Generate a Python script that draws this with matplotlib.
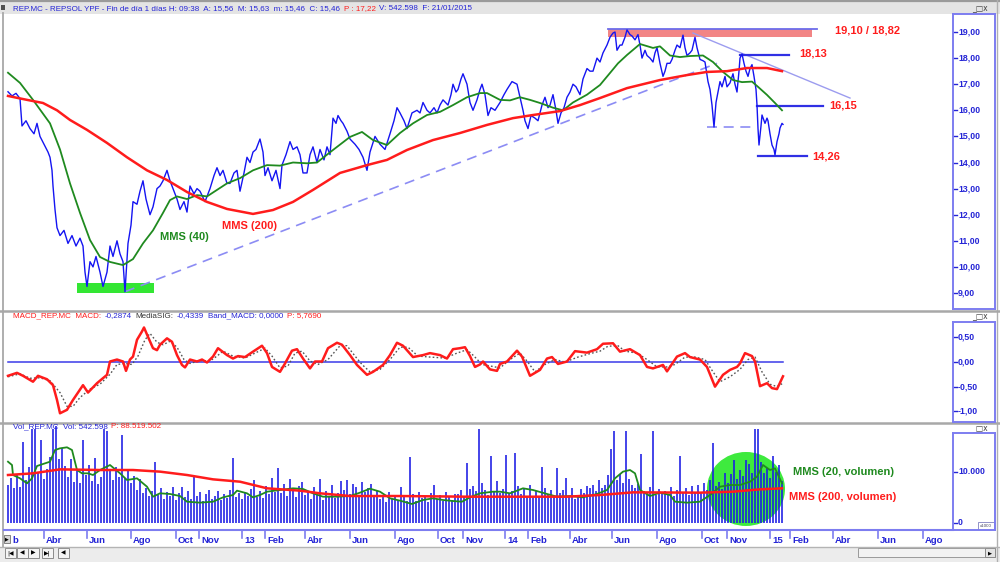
import matplotlib
matplotlib.use("Agg")
import matplotlib.pyplot as plt
import numpy as np
from matplotlib.patches import Rectangle, Ellipse

plt.rcParams['font.family'] = ['Liberation Sans', 'DejaVu Sans']

# ---------------- data (x = trading session number) ----------------
price_session = [
    8, 12, 16, 20, 22, 26, 30, 34, 37, 40,
    44, 48, 50, 52, 53, 55, 57, 60, 64, 68,
    72, 76, 80, 83, 85, 87, 90, 93, 96, 100,
    103, 107, 110, 113, 117, 120, 123, 125, 128, 131,
    133, 137, 140, 143, 146, 150, 153, 157, 160, 163,
    167, 170, 173, 177, 180, 184, 187, 190, 194, 197,
    200, 205, 210, 214, 217, 220, 223, 227, 230, 234,
    237, 240, 244, 247, 250, 253, 256, 260, 263, 265,
    268, 272, 276, 280, 282, 286, 290, 293, 297, 300,
    303, 307, 310, 313, 317, 320, 324, 327, 330, 333,
    336, 338, 341, 343, 347, 350, 355, 359, 363, 367,
    370, 375, 380, 385, 390, 394, 397, 400, 404, 407,
    412, 417, 420, 423, 427, 430, 434, 437, 440, 443,
    448, 451, 453, 456, 458, 461, 463, 467, 470, 473,
    477, 480, 482, 485, 488, 491, 495, 500, 504, 507,
    512, 517, 520, 523, 525, 528, 531, 535, 538, 542,
    545, 548, 550, 553, 556, 558, 561, 564, 567, 570,
    573, 576, 580, 583, 587, 590, 593, 597, 600, 603,
    607, 610, 613, 615, 617, 620, 622, 625, 627, 630,
    632, 635, 638, 640, 642, 645, 647, 650, 653, 655,
    657, 660, 663, 665, 667, 670, 672, 675, 677, 680,
    683, 685, 687, 690, 692, 695, 697, 700, 703, 705,
    708, 710, 712, 714, 716, 718, 720, 722, 725, 727,
    730, 733, 735, 737, 739, 740, 742, 744, 746, 748,
    750, 752, 754, 756, 757, 758, 759, 761, 762, 764,
    765, 767, 768, 770, 772, 774, 775, 777, 779, 780,
    782, 783]
price_close = [
    16.71, 16.55, 16.65, 16.45, 15.4, 15.6, 15.3, 15.1, 15.5, 15.0,
    14.7, 14.4, 14.2, 13.7, 13.1, 12.2, 11.5, 11.2, 11.4, 10.9,
    11.2, 10.8, 11.1, 10.8, 9.8, 9.25, 10.2, 10.0, 10.4, 9.8,
    9.25, 9.8, 10.8, 10.4, 11.0, 10.5, 10.2, 9.05, 10.9, 11.6,
    12.5, 12.4, 12.9, 13.3, 12.6, 12.0, 12.3, 13.0, 13.1, 13.3,
    13.7, 13.3, 13.0, 12.6, 12.2, 12.5, 12.1, 13.1, 12.8, 13.0,
    12.9, 12.5, 13.0, 13.5, 13.8, 13.5, 13.7, 13.2, 13.2, 13.6,
    13.7, 12.9, 13.6, 14.2, 14.0, 14.4, 14.5, 14.9, 14.4, 13.5,
    13.8, 13.3, 13.7, 13.0, 13.9, 14.3, 14.8, 14.5, 14.6, 14.3,
    13.6, 13.6, 14.3, 14.6, 14.0, 14.5, 14.1, 14.6, 14.3, 15.7,
    15.5, 15.8, 15.6, 15.5, 15.2, 14.9, 14.7, 14.5, 14.2, 13.7,
    14.4, 15.0, 14.7, 14.5, 15.1, 15.6, 16.1, 15.9, 15.6, 15.3,
    15.9, 16.0, 15.9, 16.3, 16.0, 15.9, 16.1, 15.9, 16.2, 16.4,
    16.2, 16.6, 17.0, 16.7, 16.8, 17.2, 17.4, 17.0, 16.3, 16.0,
    16.4, 16.8, 17.0, 16.6, 15.8, 16.1, 16.0, 16.3, 16.6, 16.8,
    17.1, 17.0, 16.5, 16.0, 15.6, 15.3, 15.8, 15.7, 15.6, 16.2,
    16.5, 16.1, 16.2, 16.6, 16.0, 15.5, 15.9, 16.1, 16.5, 16.7,
    17.0, 16.9, 16.6, 17.2, 17.6, 17.5, 17.5, 18.0, 17.85, 18.2,
    18.5, 18.8, 18.96, 19.0, 18.3, 18.5, 18.5, 18.8, 19.08, 18.9,
    18.85, 18.7, 18.9, 18.5, 18.0, 18.3, 18.1, 18.0, 17.85, 18.2,
    18.4, 17.8, 17.3, 17.5, 17.8, 17.8, 17.95, 18.3, 18.5, 18.4,
    18.88, 18.4, 18.1, 18.2, 18.3, 18.8, 18.4, 17.95, 17.9, 17.85,
    17.1, 16.8, 16.2, 15.36, 16.3, 16.7, 17.1, 16.9, 17.3, 16.9,
    17.05, 17.4, 17.0, 16.7, 17.5, 18.0, 18.16, 17.8, 17.5, 17.3,
    17.6, 17.75, 17.3, 16.8, 16.2, 15.3, 14.67, 15.4, 15.82, 15.6,
    15.5, 15.7, 15.6, 15.1, 14.67, 14.5, 14.29, 14.8, 15.1, 15.32,
    15.5, 15.46]

mms40_session = [8, 20, 33, 50, 60, 70, 80, 90, 100, 110,
                 123, 133, 143, 153, 163, 170, 177, 187, 197, 207,
                 213, 227, 240, 253, 267, 280, 293, 307, 317, 333,
                 350, 362, 373, 387, 400, 413, 427, 440, 453, 467,
                 480, 487, 500, 510, 520, 530, 540, 553, 563, 573,
                 587, 600, 610, 618, 627, 640, 653, 660, 670, 680,
                 690, 703, 713, 723, 733, 742, 752, 758, 767, 775, 782]
mms40_value = [17.44, 17.05, 16.4, 15.5, 14.5, 13.2, 12.07, 11.03, 10.38, 10.19,
               10.07, 10.3, 10.9, 11.4, 12.07, 12.56, 12.7, 12.6, 12.75, 12.7,
               12.85, 13.2, 13.4, 13.7, 13.9, 13.88, 14.0, 13.97, 14.0, 14.48,
               14.98, 15.17, 14.86, 14.67, 15.13, 15.5, 15.82, 15.94, 16.2, 16.5,
               16.66, 16.66, 16.4, 16.38, 16.5, 16.4, 16.28, 16.1, 16.0, 16.3,
               16.6, 16.97, 17.43, 17.8, 18.12, 18.54, 18.39, 18.45, 18.1, 18.04,
               18.08, 18.1, 17.85, 17.47, 17.16, 17.08, 17.1, 16.9, 16.59, 16.28, 16.0]

mms200_session = [8, 27, 43, 57, 70, 87, 107, 127, 147, 167,
                  187, 207, 227, 253, 273, 293, 313, 340, 367, 387,
                  407, 433, 460, 487, 513, 533, 560, 580, 600, 627,
                  660, 687, 707, 727, 747, 767, 782]
mms200_value = [16.55, 16.4, 16.28, 16.0, 15.63, 15.25, 14.75, 14.2, 13.7, 13.33,
                12.87, 12.49, 12.22, 12.03, 12.18, 12.49, 12.95, 13.6, 13.9, 14.1,
                14.48, 14.86, 15.13, 15.44, 15.7, 15.82, 15.97, 16.2, 16.47, 16.85,
                17.16, 17.35, 17.47, 17.5, 17.62, 17.62, 17.5]

macd_session = [8, 17, 23, 33, 38, 47, 53, 57, 60, 67,
                73, 83, 88, 97, 107, 110, 117, 123, 126, 130,
                133, 137, 142, 144, 148, 153, 157, 160, 167, 172,
                177, 182, 185, 190, 197, 202, 207, 213, 218, 227,
                233, 238, 245, 253, 262, 267, 272, 280, 285, 292,
                297, 303, 310, 315, 322, 328, 337, 342, 350, 357,
                367, 373, 383, 390, 397, 403, 413, 423, 430, 440,
                447, 453, 460, 465, 470, 475, 480, 483, 490, 497,
                500, 507, 517, 522, 530, 540, 547, 552, 558, 567,
                575, 587, 597, 603, 613, 620, 630, 640, 647, 653,
                663, 667, 677, 685, 690, 700, 707, 715, 723, 730,
                737, 740, 745, 752, 755, 760, 767, 772, 777, 783]
macd_value = [-0.28, -0.22, -0.28, -0.40, -0.28, -0.35, -0.47, -0.77, -1.04, -0.97,
              -0.77, -0.47, -0.62, -0.43, -0.26, 0.01, 0.05, 0.01, -0.18, 0.05,
              0.11, 0.45, 0.62, 0.70, 0.51, 0.28, 0.24, 0.35, 0.48, 0.41,
              0.14, -0.06, -0.11, 0.05, 0.01, 0.05, -0.01, 0.11, 0.28, 0.14,
              0.07, 0.12, 0.10, 0.21, 0.33, 0.18, -0.10, -0.20, -0.03, 0.23,
              0.26, 0.07, -0.13, 0.01, 0.01, 0.28, 0.39, 0.35, 0.14, -0.06,
              -0.26, -0.20, -0.06, 0.14, 0.39, 0.33, 0.10, 0.14, 0.18, 0.14,
              0.07, 0.26, 0.28, 0.30, 0.12, -0.10, -0.05, 0.01, -0.15, -0.18,
              -0.04, 0.01, 0.23, 0.11, -0.28, -0.16, 0.07, 0.10, -0.04, 0.01,
              0.22, 0.19, 0.26, 0.37, 0.38, 0.21, 0.26, 0.14, -0.10, -0.13,
              -0.06, -0.19, 0.11, 0.18, 0.10, 0.05, -0.10, -0.50, -0.26, -0.16,
              -0.10, -0.03, 0.18, 0.12, 0.01, -0.49, -0.43, -0.53, -0.55, -0.29]

signal_session = [8, 20, 30, 40, 50, 60, 67, 73, 80, 90,
                  100, 110, 117, 125, 132, 138, 145, 150, 157, 163,
                  170, 177, 184, 190, 200, 210, 217, 223, 233, 245,
                  255, 265, 272, 280, 288, 295, 302, 310, 318, 328,
                  340, 347, 355, 362, 370, 380, 390, 400, 408, 418,
                  430, 445, 457, 467, 474, 482, 490, 500, 510, 520,
                  527, 535, 545, 555, 565, 578, 590, 600, 608, 618,
                  625, 637, 647, 657, 667, 675, 685, 695, 705, 713,
                  720, 730, 740, 748, 755, 762, 770, 777, 783]
signal_value = [-0.30, -0.24, -0.33, -0.32, -0.38, -0.62, -0.90, -0.90, -0.72, -0.55,
                -0.45, -0.25, -0.05, -0.03, -0.05, 0.12, 0.45, 0.58, 0.40, 0.35,
                0.42, 0.30, 0.05, -0.03, 0.03, 0.02, 0.12, 0.22, 0.12, 0.08,
                0.18, 0.28, 0.12, -0.12, -0.08, 0.18, 0.22, 0.02, -0.05, 0.05,
                0.33, 0.33, 0.12, -0.05, -0.20, -0.15, 0.05, 0.30, 0.30, 0.12,
                0.10, 0.08, 0.18, 0.25, 0.12, -0.05, -0.08, -0.12, 0.05, 0.18,
                0.02, -0.20, -0.05, 0.05, 0.00, 0.10, 0.17, 0.22, 0.32, 0.33,
                0.22, 0.18, 0.05, -0.10, -0.10, -0.05, 0.10, 0.10, 0.05, -0.20,
                -0.40, -0.30, -0.15, 0.05, 0.10, -0.20, -0.45, -0.50, -0.43]

# daily volume (thousands), one bar every 3 sessions starting at session 8
vol_first_session, vol_step = 8, 3
volume = [
    7500, 8800, 6800, 9500, 7000, 15900, 8500, 11000, 18500, 18500,
    9800, 16300, 8600, 10500, 13000, 18500, 19000, 12500, 14800, 11200,
    9000, 12500, 8000, 10200, 7800, 16300, 9500, 11300, 8200, 12800,
    7600, 9000, 18500, 18000, 10500, 8500, 11000, 9000, 17300, 8800,
    10500, 7800, 9200, 6500, 8600, 5800, 6800, 5200, 6200, 12000,
    5500, 6800, 4800, 6100, 5200, 7000, 4600, 5900, 7100, 5000,
    6300, 4800, 9100, 5200, 6000, 4400, 5600, 6500, 4800, 5300,
    6200, 4500, 5700, 4900, 6400, 12700, 5000, 5800, 4700, 6000,
    5200, 6700, 8400, 5100, 6200, 4900, 7200, 5600, 8800, 6000,
    10800, 5800, 7600, 5300, 8600, 6200, 5000, 7300, 8100, 5400,
    6300, 4800, 7000, 5500, 8600, 4600, 6200, 5200, 7400, 4900,
    5800, 8200, 6400, 8400, 5600, 7600, 7000, 5300, 8000, 6100,
    6900, 7700, 5200, 6300, 4700, 5500, 4200, 6000, 4800, 5200,
    4600, 7000, 5100, 4300, 13000, 5600, 4400, 6000, 4900, 5300,
    4200, 5800, 7400, 4700, 5500, 4400, 6100, 5000, 4600, 5700,
    5600, 6400, 5300, 11700, 6600, 7200, 6200, 18500, 7800, 6400,
    5400, 13100, 6100, 8300, 5800, 6600, 13300, 5900, 6200, 13700,
    7300, 5600, 6800, 5200, 7400, 5000, 6200, 5300, 11000, 6800,
    5700, 6400, 5100, 10700, 5800, 6400, 8800, 5200, 6900, 4800,
    5500, 6600, 5900, 7200, 6800, 7500, 6300, 8400, 6800, 7500,
    9500, 14500, 18000, 8500, 9600, 7800, 18000, 8700, 7400, 6800,
    7600, 13600, 6200, 5800, 7000, 18000, 5400, 6600, 5700, 6200,
    5600, 7100, 5200, 6500, 13100, 5900, 6800, 5400, 7300, 6100,
    7500, 6000, 7900, 6400, 8400, 15600, 7200, 8100, 6600, 9800,
    7800, 9600, 12400, 8600, 10400, 9200, 12400, 11500, 9800, 18500,
    18500, 12000, 9800, 10700, 8800, 13100, 10000, 11300, 8200]

volmms20_session = [8, 12, 13, 20, 27, 32, 37, 50, 55, 60,
                    67, 72, 77, 82, 88, 93, 100, 110, 120, 127,
                    137, 147, 153, 160, 170, 180, 187, 200, 213, 223,
                    233, 237, 247, 253, 260, 267, 280, 293, 303, 313,
                    323, 337, 350, 360, 370, 380, 390, 400, 412, 423,
                    433, 443, 453, 462, 470, 480, 493, 500, 510, 523,
                    533, 547, 557, 570, 583, 597, 607, 615, 623, 630,
                    635, 640, 650, 660, 670, 675, 687, 700, 710, 720,
                    730, 740, 750, 757, 763, 770, 775, 782]
volmms20_value = [12020, 11370, 9410, 8760, 7780, 8760, 11180, 12020, 14310, 14640,
                  14840, 14310, 10390, 9740, 9740, 9410, 10390, 11370, 9740, 8430,
                  8760, 7120, 5160, 5820, 5690, 5290, 4180, 3990, 4180, 5030,
                  5490, 6340, 5820, 5030, 5490, 6140, 6470, 6800, 6670, 5820,
                  5160, 5160, 5290, 5950, 6730, 6140, 4840, 4380, 3730, 4510,
                  4840, 4510, 4310, 4180, 5030, 5820, 6140, 6140, 5820, 6800,
                  6470, 5690, 5160, 5290, 5030, 5690, 6470, 8760, 10070, 10390,
                  9740, 6470, 5290, 5950, 5490, 4180, 3990, 4180, 5490, 7120,
                  7450, 7450, 8100, 9080, 11370, 10390, 10720, 7780]

volmms200_session = [8, 33, 60, 100, 133, 160, 187, 213, 240, 267,
                     300, 320, 350, 400, 467, 500, 567, 600, 633, 700,
                     733, 760, 782]
volmms200_value = [9410, 9740, 10520, 10390, 10390, 10070, 9410, 8560, 8100, 6800,
                   6340, 5820, 5290, 5290, 5160, 5160, 5160, 5490, 6010, 5950,
                   6140, 6600, 6800]

# chart annotations (price levels)
support_line = ([125, 717], [9.05, 17.8])
resistance_line = ([693, 850], [18.96, 16.47])
level_18_13 = (740, 789, 18.13)
level_16_15 = (757, 823, 16.15)
level_14_26 = (758, 807, 14.26)
level_gap = (707, 757, 15.36)
zone_top = (608, 812, 18.82, 19.10)
zone_bottom = (77, 154, 9.0, 9.38)

date_tick_session = [44, 87, 131, 176, 199, 242, 265, 305, 350, 395, 438, 463,
                     505, 528, 570, 612, 657, 702, 727, 770, 790, 833, 878, 923]
date_tick_label = ["Abr", "Jun", "Ago", "Oct", "Nov", "13", "Feb", "Abr", "Jun", "Ago",
                   "Oct", "Nov", "14", "Feb", "Abr", "Jun", "Ago", "Oct", "Nov", "15",
                   "Feb", "Abr", "Jun", "Ago"]
price_ticks = [9, 10, 11, 12, 13, 14, 15, 16, 17, 18, 19]
macd_ticks = [0.5, 0.0, -0.5, -1.0]
vol_ticks = [10000, 0]

# ---------------- styling ----------------
BLUE = '#1414f2'
TXT_BLUE = '#2424d6'
RED = '#ff1c1c'
GREEN = '#1f8a1f'
STRIP = '#7d7df0'

W, H = 1000, 562
fig = plt.figure(figsize=(W / 100, H / 100), dpi=100)
fig.patch.set_facecolor('white')


def px_rect(x0, y0, x1, y1):
    return [x0 / W, 1 - y1 / H, (x1 - x0) / W, (y1 - y0) / H]


bg = fig.add_axes([0, 0, 1, 1], zorder=-5)
bg.set_xlim(0, W)
bg.set_ylim(H, 0)
bg.axis('off')
# window chrome
bg.add_patch(Rectangle((0, 0), W, 13.5, fc='#e4e4e4', ec='none'))
bg.plot([0, W], [0.8, 0.8], color='#9a9a9a', lw=1.6)
bg.plot([3, 3], [13, 547], color='#a8a8a8', lw=1.3)
bg.plot([997, 997], [0, 562], color='#b0b0b0', lw=1)
for yy in (310.5, 423.0):
    bg.plot([0, W], [yy, yy], color='#a8a8a8', lw=1.8)
bg.add_patch(Rectangle((0, 546.5), W, 16, fc='#ececec', ec='none'))
bg.plot([0, W], [546.5, 546.5], color='#b4b4b4', lw=1)
for yb in (8.0, 316.0, 428.0):
    bg.text(980, yb, "_\u25a1x", fontsize=5.5, color='#404040', ha='center', va='center',
            family='DejaVu Sans')
bg.add_patch(Rectangle((0.5, 4.5), 4, 5, fc='#505050', ec='none'))
# nav buttons
for (bx, glyph) in [(5, "|\u25c0"), (17, "\u25c0"), (28, "\u25b6"), (42, "\u25b6|"), (58, "\u25c0")]:
    bg.add_patch(Rectangle((bx, 548), 10.5, 9.5, fc='#f4f4f4', ec='#8a8a8a', lw=0.7))
    bg.text(bx + 5.2, 553, glyph, fontsize=4.2, ha='center', va='center', color='black',
            family='DejaVu Sans')
bg.add_patch(Rectangle((4, 535), 6, 8, fc='#d8d8d8', ec='#707070', lw=0.6))
bg.text(7, 539, "\u25b6", fontsize=3.5, ha='center', va='center', family='DejaVu Sans')
bg.add_patch(Rectangle((858, 548), 137, 9, fc='#f2f2f2', ec='#9a9a9a', lw=0.7))
bg.add_patch(Rectangle((985, 548), 10, 9, fc='#e4e4e4', ec='#8a8a8a', lw=0.7))
bg.text(990, 552.5, "\u25b6", fontsize=3.8, ha='center', va='center', family='DejaVu Sans')


def header(x, y, parts, size=5.8):
    t = bg.text(x, y, parts[0][0], color=parts[0][1], fontsize=size, va='center', ha='left')
    for s, c in parts[1:]:
        t = bg.annotate(s, xy=(1, 0), xycoords=t, xytext=(2.6, 0), textcoords='offset points',
                        va='bottom', ha='left', color=c, fontsize=size)


header(13, 8.2, [("REP.MC - REPSOL YPF - Fin de d\u00eda 1 d\u00edas H: 09:38  A: 15,56  M: 15,63  m: 15,46  C: 15,46", TXT_BLUE),
                 ("P : 17,22", RED), ("V: 542.598  F: 21/01/2015", TXT_BLUE)])
header(13, 316, [("MACD_REP.MC  MACD:", RED), ("-0,2874", TXT_BLUE), ("MediaSIG:", '#333333'),
                 ("-0,4339", TXT_BLUE), ("Band_MACD: 0,0000", TXT_BLUE), ("P: 5,7690", RED)])
header(13, 427, [("Vol_REP.MC  Vol: 542.598", TXT_BLUE), ("P: 88.519.502", RED)])

XL = (4, 953)


def plain_axes(rect, ylim):
    a = fig.add_axes(rect)
    a.set_xlim(*XL)
    a.set_ylim(*ylim)
    a.set_facecolor('none')
    a.axis('off')
    return a


def scale_strip(rect, ylim, ticks, labels):
    a = fig.add_axes(rect)
    a.set_xlim(0, 1)
    a.set_ylim(*ylim)
    a.set_xticks([])
    a.set_yticks([])
    a.set_facecolor('white')
    for s in a.spines.values():
        s.set_color(STRIP)
        s.set_linewidth(1.4)
    for v, lab in zip(ticks, labels):
        a.plot([0, 0.1], [v, v], color=TXT_BLUE, lw=1)
        a.text(0.12, v, lab, color=TXT_BLUE, fontsize=6.3, fontweight='bold', va='center', ha='left')
    return a


# ---------------- price panel ----------------
P_YL = (8.387, 19.69)
ax = plain_axes(px_rect(4, 14, 953, 309), P_YL)
zx0, zx1, zb, zt = zone_top
ax.add_patch(Rectangle((zx0, zb), zx1 - zx0, zt - zb, fc='#f28585', ec='none', zorder=1))
ax.plot([zx0, zx1 + 5], [zt, zt], color='#6c6cea', lw=1.3, zorder=1.5)
gx0, gx1, gb, gt = zone_bottom
ax.add_patch(Rectangle((gx0, gb), gx1 - gx0, gt - gb, fc='#33e633', ec='none', zorder=1))
ax.plot(*support_line, color='#8c8cf4', lw=1.2, dashes=(6, 4), zorder=1.5)
ax.plot(*resistance_line, color='#9c9cef', lw=1.0, zorder=1.5)
for (a0, a1, lv) in (level_18_13, level_16_15, level_14_26):
    ax.plot([a0, a1], [lv, lv], color='#3030e4', lw=1.6, zorder=1.5)
ax.plot([level_gap[0], level_gap[1]], [level_gap[2], level_gap[2]], color='#8c8cf4', lw=1.2,
        dashes=(6, 4), zorder=1.5)
ax.plot(price_session, price_close, color=BLUE, lw=1.0, zorder=2)
ax.plot(mms40_session, mms40_value, color=GREEN, lw=1.3, zorder=3)
ax.plot(mms200_session, mms200_value, color=RED, lw=1.8, zorder=3)
lab_kw = dict(fontsize=8, fontweight='bold', va='center', ha='left')
ax.text(835, 19.04, "19,10 / 18,82", color=RED, **lab_kw)
ax.text(799, 18.18, "18,13", color=RED, **lab_kw)
ax.text(829, 16.17, "16,15", color=RED, **lab_kw)
ax.text(812, 14.24, "14,26", color=RED, **lab_kw)
ax.text(160, 11.15, "MMS (40)", color=GREEN, **lab_kw)
ax.text(222, 11.55, "MMS (200)", color=RED, **lab_kw)
scale_strip(px_rect(953, 14, 995, 309), P_YL, price_ticks,
            ["%d,00" % v for v in price_ticks])

# ---------------- MACD panel ----------------
M_YL = (-1.217, 1.014)
axm = plain_axes(px_rect(4, 312, 953, 422), M_YL)
axm.plot([8, 783], [0, 0], color='#3a3ae8', lw=1.1, zorder=1)
axm.plot(signal_session, signal_value, color='#555555', lw=1.0, ls=(0, (1.2, 1.6)), zorder=2)
axm.plot(macd_session, macd_value, color=RED, lw=1.8, zorder=3)
scale_strip(px_rect(953, 322, 995, 422), (-1.217, 0.811), macd_ticks,
            ["0,50", "0,00", "-0,50", "-1,00"])

# ---------------- volume panel ----------------
V_YL = (-1373, 19216)
axv = plain_axes(px_rect(4, 425, 953, 530), V_YL)
vol_session = vol_first_session + vol_step * np.arange(len(volume))
axv.add_patch(Ellipse((746, 6670), 78, 14510, fc='#3eea3e', ec='none', zorder=1))
axv.bar(vol_session, volume, width=2.7, color='#1a1ae4', alpha=0.8, lw=0, zorder=2)
axv.plot(volmms20_session, volmms20_value, color=GREEN, lw=1.3, zorder=3)
axv.plot(volmms200_session, volmms200_value, color=RED, lw=1.8, zorder=3)
axv.text(793, 10050, "MMS (20, volumen)", color=GREEN, **lab_kw)
axv.text(789, 5150, "MMS (200, volumen)", color=RED, **lab_kw)
sv = scale_strip(px_rect(953, 433, 995, 530), (-1373, 17647), vol_ticks, ["10.000", "0"])
sv.add_patch(Rectangle((0.6, -1300), 0.38, 1450, fc='white', ec='#8080c0', lw=0.6))
sv.text(0.79, -560, "x1000", fontsize=3.2, ha='center', va='center', color='#404060')

# ---------------- date axis ----------------
axd = fig.add_axes(px_rect(4, 530, 953, 547))
axd.set_xlim(*XL)
axd.set_ylim(0, 1)
axd.set_facecolor('none')
axd.set_xticks([])
axd.set_yticks([])
for k, s in axd.spines.items():
    s.set_visible(k == 'top')
axd.spines['top'].set_color(STRIP)
axd.spines['top'].set_linewidth(1.5)
for sx, lab in zip(date_tick_session, date_tick_label):
    axd.plot([sx, sx], [1, 0.55], color=STRIP, lw=1.2)
    axd.text(sx + 2, 0.36, lab, color=TXT_BLUE, fontsize=6.8, fontweight='bold', va='center', ha='left')
axd.text(12.5, 0.36, "b", color=TXT_BLUE, fontsize=6.8, fontweight='bold', va='center', ha='left')

fig.savefig("out.png", dpi=100, facecolor=fig.get_facecolor())
